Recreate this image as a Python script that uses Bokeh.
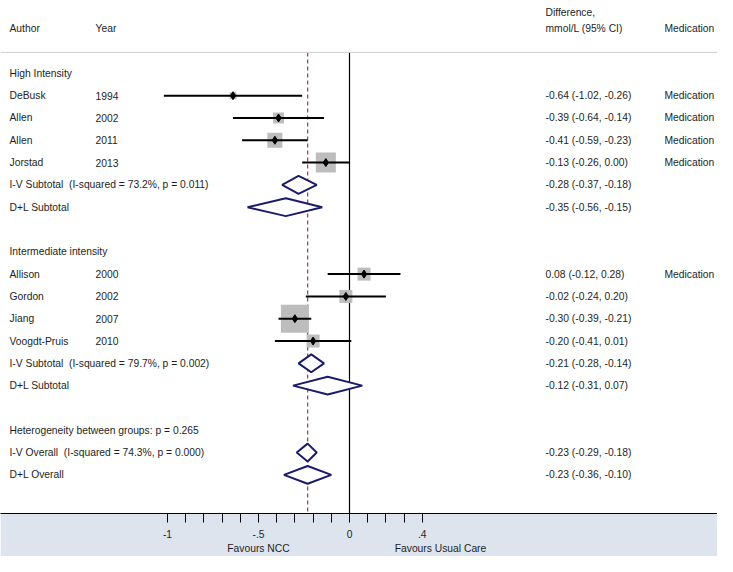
from bokeh.plotting import figure
from bokeh.models import Range1d, FixedTicker, Span, ColumnDataSource, LinearAxis
from bokeh.core.properties import value
from bokeh.embed import file_html
from bokeh.resources import INLINE

# ---------------- data ----------------
group_names = ["High Intensity", "Intermediate intensity"]
authors = ["DeBusk", "Allen", "Allen", "Jorstad", "Allison", "Gordon", "Jiang", "Voogdt-Pruis"]
years = ["1994", "2002", "2011", "2013", "2000", "2002", "2007", "2010"]
study_group = [0, 0, 0, 0, 1, 1, 1, 1]
est = [-0.64, -0.39, -0.41, -0.13, 0.08, -0.02, -0.30, -0.20]
lo = [-1.02, -0.64, -0.59, -0.26, -0.12, -0.24, -0.39, -0.41]
hi = [-0.26, -0.14, -0.23, 0.00, 0.28, 0.20, -0.21, 0.01]
weight = [2.3, 5.8, 10.8, 19.2, 8.1, 8.1, 37.6, 8.1]
medication = ["Medication", "Medication", "Medication", "Medication", "Medication", "", "", ""]

iv_est = [-0.28, -0.21]
iv_lo = [-0.37, -0.28]
iv_hi = [-0.18, -0.14]
iv_i2 = ["73.2%", "79.7%"]
iv_p = ["0.011", "0.002"]
dl_est = [-0.35, -0.12]
dl_lo = [-0.56, -0.31]
dl_hi = [-0.15, 0.07]

overall_iv = (-0.23, -0.29, -0.18)
overall_iv_i2 = "74.3%"
overall_iv_p = "0.000"
overall_dl = (-0.23, -0.36, -0.10)
het_p = "0.265"

tick_major = [-1, -0.5, 0, 0.4]
tick_labels = ["-1", "-.5", "0", ".4"]
tick_minor = [-0.9, -0.8, -0.7, -0.6, -0.4, -0.3, -0.2, -0.1, 0.1, 0.2, 0.3]
favour_pos = [-0.5, 0.5]
favour_labels = ["Favours NCC", "Favours Usual Care"]

# ---------------- layout ----------------
W, H = 717, 556
BAND = 42
FRAME_H = H - BAND
ZERO_PX = 349.0
UNIT_PX = 182.0
ROW_PX = 22.35
FONT = value("Liberation Sans")
FS = "10.3px"
TXT = "#1e1e1e"
NAVY = "#1b1b6b"
SP2 = " \u00a0"  # double gap that SVG will not collapse


def px2x(px):
    return (px - ZERO_PX) / UNIT_PX


def py2y(py):
    return py / ROW_PX


def ci_text(e, l, h):
    return f"{e:.2f} ({l:.2f}, {h:.2f})"


X_AUTH = px2x(9)
X_YEAR = px2x(95)
X_CI = px2x(545)
X_MED = px2x(664)

p = figure(width=W, height=H, output_backend="svg", toolbar_location=None,
           x_range=Range1d(px2x(0), px2x(W)), y_range=Range1d(py2y(FRAME_H), 0),
           min_border_left=0, min_border_right=0, min_border_top=0, min_border_bottom=BAND)
p.yaxis.visible = False
p.grid.visible = False
p.outline_line_color = None
p.background_fill_color = "white"
p.border_fill_color = "#dde4ee"

# rows
row = py2y(73)
text_rows = []  # (x, y, text)
studies_y = [0.0] * len(est)
iv_rows = []
dl_rows = []
for g, gname in enumerate(group_names):
    text_rows.append((X_AUTH, row, gname))
    row += 1
    for i in range(len(est)):
        if study_group[i] != g:
            continue
        studies_y[i] = row
        text_rows.append((X_AUTH, row, authors[i]))
        text_rows.append((X_YEAR, row, years[i]))
        text_rows.append((X_CI, row, ci_text(est[i], lo[i], hi[i])))
        if medication[i]:
            text_rows.append((X_MED, row, medication[i]))
        row += 1
    iv_rows.append(row)
    text_rows.append((X_AUTH, row, f"I-V Subtotal{SP2}(I-squared = {iv_i2[g]}, p = {iv_p[g]})"))
    text_rows.append((X_CI, row, ci_text(iv_est[g], iv_lo[g], iv_hi[g])))
    row += 1
    dl_rows.append(row)
    text_rows.append((X_AUTH, row, "D+L Subtotal"))
    text_rows.append((X_CI, row, ci_text(dl_est[g], dl_lo[g], dl_hi[g])))
    row += 2

het_row = row
text_rows.append((X_AUTH, het_row, f"Heterogeneity between groups: p = {het_p}"))
ov_iv_row = het_row + 1
ov_dl_row = het_row + 2
text_rows.append((X_AUTH, ov_iv_row, f"I-V Overall{SP2}(I-squared = {overall_iv_i2}, p = {overall_iv_p})"))
text_rows.append((X_CI, ov_iv_row, ci_text(*overall_iv)))
text_rows.append((X_AUTH, ov_dl_row, "D+L Overall"))
text_rows.append((X_CI, ov_dl_row, ci_text(*overall_dl)))

# header
sep_y = py2y(52)
y_bot = py2y(FRAME_H)
hdr_y = py2y(28)
text_rows.append((X_AUTH, hdr_y, "Author"))
text_rows.append((X_YEAR, hdr_y, "Year"))
text_rows.append((X_CI, hdr_y, "mmol/L (95% CI)"))
text_rows.append((X_MED, hdr_y, "Medication"))
text_rows.append((X_CI, py2y(12), "Difference,"))

p.add_layout(Span(location=sep_y, dimension="width", line_color="#cfcfcf", line_width=1))

# reference lines
p.segment(x0=[0], y0=[sep_y], x1=[0], y1=[y_bot], line_color="black", line_width=1.2)
p.segment(x0=[overall_iv[0]], y0=[sep_y], x1=[overall_iv[0]], y1=[y_bot],
          line_color="#a34a4a", line_width=1.3, line_dash="4 3")

# study boxes, CIs and points
sizes = [4.57 * (w ** 0.5) for w in weight]
src = ColumnDataSource(dict(est=est, lo=lo, hi=hi, y=studies_y, s=sizes))
p.rect(x="est", y="y", width="s", height="s", width_units="screen", height_units="screen",
       source=src, fill_color="#bdbdbd", line_color=None)
p.segment(x0="lo", y0="y", x1="hi", y1="y", source=src, line_color="black", line_width=2)
p.scatter(x="est", y="y", source=src, marker="diamond", size=8, fill_color="black", line_color="black")

# diamonds
dh = 0.4
d_xs, d_ys = [], []
for g in range(len(group_names)):
    d_xs.append([iv_lo[g], iv_est[g], iv_hi[g], iv_est[g]])
    d_ys.append([iv_rows[g], iv_rows[g] - dh, iv_rows[g], iv_rows[g] + dh])
    d_xs.append([dl_lo[g], dl_est[g], dl_hi[g], dl_est[g]])
    d_ys.append([dl_rows[g], dl_rows[g] - dh, dl_rows[g], dl_rows[g] + dh])
for (e, l, h), r in ((overall_iv, ov_iv_row), (overall_dl, ov_dl_row)):
    d_xs.append([l, e, h, e])
    d_ys.append([r, r - dh, r, r + dh])
p.patches(xs=d_xs, ys=d_ys, fill_color="white", line_color=NAVY, line_width=2)

# texts
p.text(x=[t[0] for t in text_rows], y=[t[1] for t in text_rows], text=[t[2] for t in text_rows],
       text_font=FONT, text_font_size=FS, text_color=TXT,
       text_align="left", text_baseline="middle")

# axis
ax = p.xaxis[0]
ax.ticker = FixedTicker(ticks=tick_major, minor_ticks=tick_minor)
ax.major_label_overrides = {float(v): s for v, s in zip(tick_major, tick_labels)}
ax.axis_line_color = "black"
ax.axis_line_width = 1
ax.major_tick_in = 0
ax.major_tick_out = 9
ax.minor_tick_in = 0
ax.minor_tick_out = 9
ax.major_tick_line_color = "black"
ax.minor_tick_line_color = "black"
ax.major_label_text_font = "Liberation Sans"
ax.major_label_text_font_size = FS
ax.major_label_text_color = TXT
ax.major_label_standoff = 7

ax2 = LinearAxis(ticker=FixedTicker(ticks=favour_pos),
                 major_label_overrides={float(v): s for v, s in zip(favour_pos, favour_labels)},
                 axis_line_color=None, major_tick_line_color=None, minor_tick_line_color=None,
                 major_tick_out=0, major_tick_in=0, minor_tick_out=0, minor_tick_in=0,
                 major_label_standoff=2, major_label_text_font="Liberation Sans",
                 major_label_text_font_size=FS, major_label_text_color=TXT)
p.add_layout(ax2, "below")

open("out.html", "w").write(file_html(p, INLINE))
